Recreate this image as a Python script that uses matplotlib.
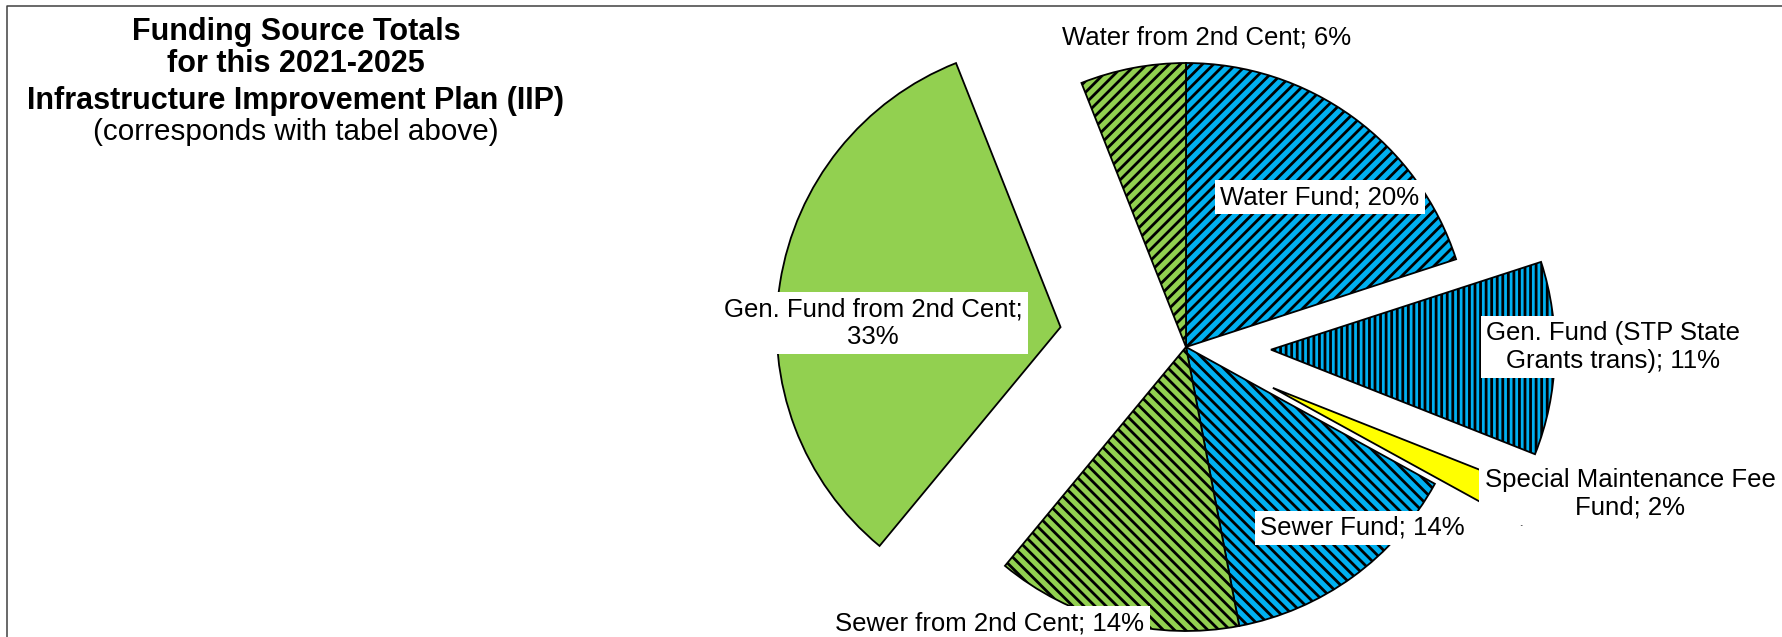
import textwrap
import matplotlib
matplotlib.use("Agg")
import matplotlib.pyplot as plt
from matplotlib.lines import Line2D

plt.rcParams['font.family'] = ['Liberation Sans', 'DejaVu Sans']
plt.rcParams['hatch.linewidth'] = 2.0

# slices clockwise from 12 o'clock
sources = ["Water Fund", "Gen. Fund (STP State Grants trans)",
           "Special Maintenance Fee Fund", "Sewer Fund",
           "Sewer from 2nd Cent", "Gen. Fund from 2nd Cent",
           "Water from 2nd Cent"]
shares = [20, 11, 2, 14, 14, 33, 6]

title_lines = ["Funding Source Totals", "for this 2021-2025",
               "Infrastructure Improvement Plan (IIP)"]
subtitle = "(corresponds with tabel above)"

blue, green, yellow = "#00B0F0", "#92D050", "#FFFF00"
colors = [blue, blue, yellow, blue, green, green, green]
hatches = ["///", "|||", "", "\\\\\\", "\\\\\\", "", "///"]
explode = [0, 85, 96, 0, 0, 127, 0]   # in pixels
# label centres, pixels from top-left
label_xy = [(1320, 197), (1613, 347), (1630, 494), (1362, 528),
            (990, 623), (873, 323), (1207, 38)]

W, H = 1783, 637
fig = plt.figure(figsize=(W / 100, H / 100), dpi=100)
ax = fig.add_axes([0, 0, 1, 1])
wedges, _ = ax.pie(shares, colors=colors, explode=explode, startangle=90,
                   counterclock=False, center=(1186, H - 347), radius=284,
                   frame=True,
                   wedgeprops=dict(edgecolor='black', linewidth=1.3))
for w, h in zip(wedges, hatches):
    if h:
        w.set_hatch(h)
ax.set_xlim(0, W)
ax.set_ylim(0, H)
ax.set_aspect('auto')
ax.axis('off')

for name, share, (x, y) in zip(sources, shares, label_xy):
    ax.text(x, H - y, textwrap.fill(f"{name}; {share}%", 24),
            ha='center', va='center', fontsize=18.5, linespacing=1.2,
            bbox=dict(boxstyle='square,pad=0.2', facecolor='white',
                      edgecolor='none'), zorder=5)

title_y = [32, 64, 101]
for line, y in zip(title_lines, title_y):
    fig.text(296 / W, 1 - y / H, line, ha='center', va='center',
             fontsize=22, fontweight='bold')
fig.text(296 / W, 1 - 132 / H, subtitle, ha='center', va='center',
         fontsize=21.3)

# chart area border (left and top only, rest is cropped)
fig.add_artist(Line2D([7 / W, 7 / W, 1], [0, 1 - 6 / H, 1 - 6 / H],
                      color='#404040', linewidth=1.1))

fig.savefig("out.png", dpi=100)
